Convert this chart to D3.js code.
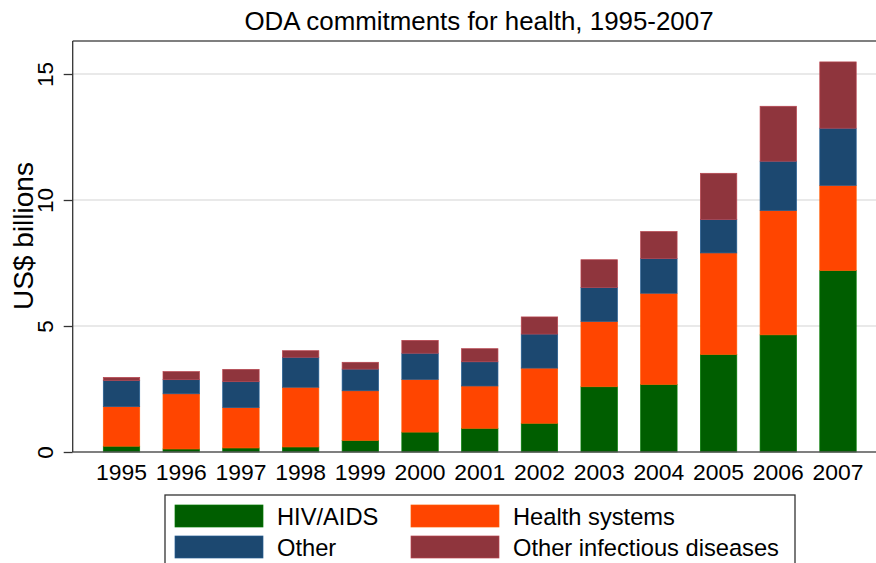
<!DOCTYPE html>
<html>
<head>
<meta charset="utf-8">
<script src="https://cdn.jsdelivr.net/npm/d3@7"></script>
<style>
body { margin: 0; background: white; }
svg { display: block; font-family: "Liberation Sans", Arial, sans-serif; }
</style>
</head>
<body>
<svg></svg>
<script>
var years = ["1995","1996","1997","1998","1999","2000","2001","2002","2003","2004","2005","2006","2007"];
var hivAids = [0.23, 0.12, 0.16, 0.20, 0.46, 0.79, 0.94, 1.14, 2.59, 2.68, 3.87, 4.65, 7.20];
var healthSystems = [1.57, 2.19, 1.60, 2.37, 1.97, 2.09, 1.68, 2.19, 2.59, 3.62, 4.03, 4.93, 3.38];
var other = [1.04, 0.56, 1.03, 1.19, 0.86, 1.04, 0.96, 1.35, 1.35, 1.38, 1.33, 1.96, 2.27];
var otherInfectious = [0.12, 0.32, 0.49, 0.26, 0.27, 0.51, 0.52, 0.68, 1.10, 1.07, 1.83, 2.18, 2.63];
var yTicks = [0, 5, 10, 15];

var seriesNames = ["HIV/AIDS", "Health systems", "Other", "Other infectious diseases"];
var seriesColors = ["#005e00", "#ff4500", "#1c4870", "#8f353d"];

var width = 876, height = 563;
var plotL = 72.7, plotR = 876, plotT = 41, plotB = 452;

var svg = d3.select("svg").attr("width", width).attr("height", height);

// rows for the stack
var rows = years.map(function(y, i){
	return {year: y, "HIV/AIDS": hivAids[i], "Health systems": healthSystems[i],
		"Other": other[i], "Other infectious diseases": otherInfectious[i]};
});
var stacked = d3.stack().keys(seriesNames)(rows);

var x = d3.scaleBand().domain(years).range([91.65, 867.85]).paddingInner(0.39).paddingOuter(0.195);
var y = d3.scaleLinear().domain([0, 16.31]).range([plotB, plotT]);

// gridlines
svg.append("g").selectAll("line").data(yTicks.slice(1)).enter()
	.append("line")
	.attr("x1", plotL).attr("x2", plotR)
	.attr("y1", function(d){return y(d)}).attr("y2", function(d){return y(d)})
	.style("stroke", "#e2e2e2").style("stroke-width", 1.6);

// bars
svg.append("g").selectAll("g").data(stacked).enter()
	.append("g")
	.style("fill", function(s, i){return seriesColors[i]})
	.style("stroke", function(s, i){return d3.color(seriesColors[i]).brighter(0.7)})
	.style("stroke-width", 0.7)
	.selectAll("rect").data(function(s){return s}).enter()
	.append("rect")
	.attr("x", function(d){return x(d.data.year)})
	.attr("width", x.bandwidth())
	.attr("y", function(d){return y(d[1])})
	.attr("height", function(d){return y(d[0]) - y(d[1])});

// frame: top line and x axis line
svg.append("line").attr("x1", plotL).attr("x2", plotR).attr("y1", plotT).attr("y2", plotT)
	.style("stroke", "#555").style("stroke-width", 1.3);
svg.append("line").attr("x1", plotL).attr("x2", plotR).attr("y1", plotB).attr("y2", plotB)
	.style("stroke", "#555").style("stroke-width", 1.3);

// y axis
var yAxis = d3.axisLeft(y).tickValues(yTicks).tickSize(9).tickPadding(0).tickFormat(d3.format("d"));
var ga = svg.append("g").attr("transform", "translate(" + plotL + ",0)").call(yAxis);
ga.select(".domain").attr("d", "M0," + plotT + "V" + plotB).style("stroke", "#333").style("stroke-width", 1.3);
ga.selectAll(".tick line").style("stroke", "#333").style("stroke-width", 1.3);
ga.selectAll(".tick text")
	.attr("x", null).attr("dy", null)
	.attr("transform", "translate(-20,0) rotate(-90)")
	.attr("text-anchor", "middle")
	.style("font-size", "22.5px").style("fill", "#000");

// x labels
svg.append("g").selectAll("text").data(years).enter()
	.append("text")
	.attr("x", function(d){return x(d) + x.bandwidth() / 2})
	.attr("y", 480)
	.attr("text-anchor", "middle")
	.style("font-size", "22.9px")
	.text(function(d){return d});

// titles
svg.append("text").attr("x", 479).attr("y", 30).attr("text-anchor", "middle")
	.style("font-size", "25.9px").text("ODA commitments for health, 1995-2007");
svg.append("text").attr("transform", "translate(33,236) rotate(-90)").attr("text-anchor", "middle")
	.style("font-size", "28px").text("US$ billions");

// legend
svg.append("rect").attr("x", 165).attr("y", 495).attr("width", 630).attr("height", 80)
	.style("fill", "white").style("stroke", "#333").style("stroke-width", 1.3);
var leg = svg.append("g").selectAll("g").data(seriesNames).enter()
	.append("g")
	.attr("transform", function(d, i){
		return "translate(" + (i % 2 == 0 ? 175 : 411) + "," + (i < 2 ? 505 : 536) + ")";
	});
leg.append("rect").attr("width", 88).attr("height", 22)
	.style("fill", function(d, i){return seriesColors[i]})
	.style("stroke", function(d, i){return d3.color(seriesColors[i]).brighter(0.7)})
	.style("stroke-width", 0.7);
leg.append("text").attr("x", 102).attr("y", 19.5)
	.style("font-size", "23.7px").text(function(d){return d});
</script>
</body>
</html>
